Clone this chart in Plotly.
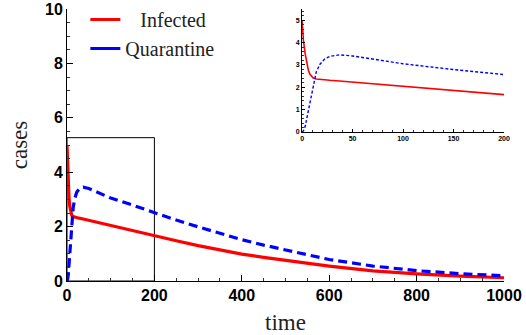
import plotly.graph_objects as go

# ---- data ----
time = [0, 1.3, 3, 4.6, 6.2, 7.8, 9.5, 11, 14, 17.5, 22.5, 27.5, 37, 50, 75, 100, 150, 200,
        250, 300, 350, 400, 450, 500, 550, 600, 700, 800, 900, 1000]
infected = [5.0, 4.1, 3.5, 3.05, 2.76, 2.58, 2.48, 2.41, 2.37, 2.35, 2.33, 2.31, 2.28, 2.23, 2.13, 2.04, 1.85, 1.66,
            1.48, 1.30, 1.14, 0.99, 0.87, 0.76, 0.65, 0.55, 0.37, 0.26, 0.18, 0.12]
quarantine = [0.0, 0.05, 0.24, 0.6, 1.05, 1.42, 1.79, 2.16, 2.68, 3.02, 3.27, 3.38, 3.45, 3.40, 3.22, 3.05, 2.79, 2.50,
              2.24, 1.99, 1.75, 1.52, 1.32, 1.14, 0.96, 0.79, 0.55, 0.38, 0.27, 0.19]

main_xticks = [0, 200, 400, 600, 800, 1000]
main_yticks = [0, 2, 4, 6, 8, 10]
inset_xticks = [0, 50, 100, 150, 200]
inset_yticks = [0, 1, 2, 3, 4, 5]
inset_xrange = [0, 200]
inset_yrange = [0, 5.5]
zoom_box_top = 5.27

RED = "rgb(255,0,0)"
BLUE = "rgb(0,0,255)"

fig = go.Figure()

# main traces
fig.add_trace(go.Scatter(x=time, y=infected, mode="lines", line=dict(color=RED, width=3.2),
                         showlegend=False, xaxis="x", yaxis="y"))
fig.add_trace(go.Scatter(x=time, y=quarantine, mode="lines",
                         line=dict(color=BLUE, width=3.2, dash="9px,5px"),
                         showlegend=False, xaxis="x", yaxis="y"))
# inset traces
fig.add_trace(go.Scatter(x=time, y=infected, mode="lines", line=dict(color=RED, width=1.6),
                         showlegend=False, xaxis="x2", yaxis="y2"))
fig.add_trace(go.Scatter(x=time, y=quarantine, mode="lines",
                         line=dict(color=BLUE, width=1.4, dash="3px,2px"),
                         showlegend=False, xaxis="x2", yaxis="y2"))
# legend entries (solid lines as in the reference)
fig.add_trace(go.Scatter(x=[None], y=[None], mode="lines", line=dict(color=RED, width=3),
                         name="\u00a0\u00a0\u00a0Infected"))
fig.add_trace(go.Scatter(x=[None], y=[None], mode="lines", line=dict(color=BLUE, width=3),
                         name="Quarantine"))

tickfont_main = dict(family="Liberation Sans", size=16, color="black", weight="bold")
tickfont_inset = dict(family="Liberation Sans", size=7, color="black", weight="bold")
serif = "Liberation Serif, Times New Roman, serif"

fig.update_layout(
    width=526, height=335,
    margin=dict(l=67, r=22, t=9, b=54, autoexpand=False),
    plot_bgcolor="white", paper_bgcolor="white",
    showlegend=True,
    legend=dict(x=0.042, y=1.033, xanchor="left", yanchor="top", bgcolor="rgba(0,0,0,0)",
                font=dict(family=serif, size=20, color="#222"), itemwidth=30,
                tracegroupgap=0),
    xaxis=dict(range=[0, 1000], domain=[0, 1], tickvals=main_xticks, showline=True, linecolor="black", linewidth=1,
               ticks="inside", ticklen=6, tickcolor="black", tickfont=tickfont_main, showgrid=False, zeroline=False,
               automargin=False,
               minor=dict(dtick=50, ticks="inside", ticklen=3, tickcolor="#333", showgrid=False),
               title=dict(text="time", font=dict(family=serif, size=23, color="#222"), standoff=15)),
    yaxis=dict(range=[0, 10], domain=[0, 1], tickvals=main_yticks, showline=True, linecolor="black", linewidth=1,
               ticks="inside", ticklen=6, tickcolor="black", tickfont=tickfont_main, showgrid=False, zeroline=False,
               automargin=False,
               minor=dict(dtick=0.5, ticks="inside", ticklen=3, tickcolor="#333", showgrid=False),
               title=dict(text="cases", font=dict(family=serif, size=23, color="#222"), standoff=10)),
    xaxis2=dict(range=inset_xrange, domain=[0.538, 1.0], anchor="y2", tickvals=inset_xticks, showline=True,
                linecolor="black", linewidth=1, ticks="inside", ticklen=3, tickcolor="black", tickfont=tickfont_inset,
                showgrid=False, zeroline=False, automargin=False,
                minor=dict(dtick=10, ticks="inside", ticklen=1.5, tickcolor="#333", showgrid=False)),
    yaxis2=dict(range=inset_yrange, domain=[0.548, 1.0], anchor="x2", tickvals=inset_yticks, showline=True,
                linecolor="black", linewidth=1, ticks="inside", ticklen=3, tickcolor="black", tickfont=tickfont_inset,
                showgrid=False, zeroline=False, automargin=False,
                minor=dict(dtick=0.2, ticks="inside", ticklen=1.5, tickcolor="#333", showgrid=False)),
    shapes=[dict(type="rect", xref="x", yref="y", x0=inset_xrange[0], x1=inset_xrange[1], y0=0, y1=zoom_box_top,
                 line=dict(color="black", width=1), layer="below")],
)

fig.write_html("out.html")
